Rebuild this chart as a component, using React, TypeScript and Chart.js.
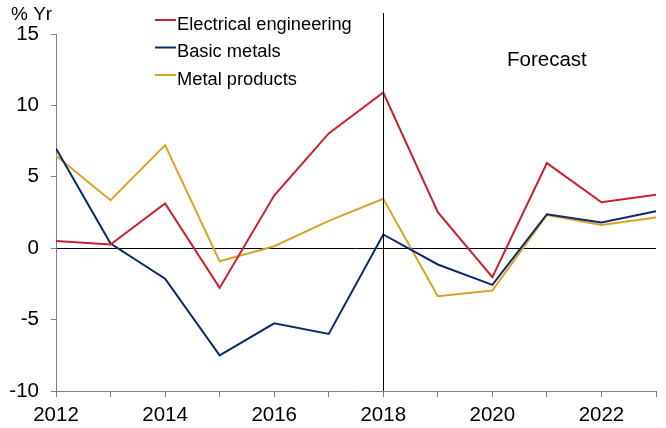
import React, { useEffect, useRef } from "react";
import { Chart, registerables } from "chart.js";

Chart.register(...registerables);

const years = [2012, 2013, 2014, 2015, 2016, 2017, 2018, 2019, 2020, 2021, 2022, 2023];
const electrical = [0.51, 0.26, 3.13, -2.78, 3.69, 8.04, 10.9, 2.52, -2.03, 5.96, 3.22, 3.74];
const basicMetals = [6.98, 0.33, -2.13, -7.5, -5.26, -6.0, 0.96, -1.14, -2.57, 2.38, 1.8, 2.59];
const metalProducts = [6.47, 3.36, 7.22, -0.91, 0.14, 1.91, 3.46, -3.36, -2.97, 2.33, 1.63, 2.15];
const seriesNames = ["Electrical engineering", "Basic metals", "Metal products"];
const seriesColors = ["#C8202F", "#0B2A6A", "#D9A424"];
const forecastYear = 2018;
const yTicks = [-10, -5, 0, 5, 10, 15];

const FONT = "'Liberation Sans', Arial, sans-serif";

const overlay = {
  id: "overlay",
  afterDatasetsDraw(chart: any) {
    const { ctx, scales, chartArea } = chart;
    const x = scales.x.getPixelForValue(forecastYear);
    ctx.save();
    ctx.strokeStyle = "#000";
    ctx.lineWidth = 1;
    ctx.beginPath();
    ctx.moveTo(Math.round(x) + 0.5, 13);
    ctx.lineTo(Math.round(x) + 0.5, chartArea.bottom);
    ctx.stroke();

    ctx.fillStyle = "#000";
    ctx.textBaseline = "alphabetic";
    ctx.textAlign = "left";
    ctx.font = `19px ${FONT}`;
    ctx.fillText("% Yr", 11, 20);
    ctx.font = `20.5px ${FONT}`;
    ctx.fillText("Forecast", 507, 66);

    ctx.font = `18.3px ${FONT}`;
    chart.data.datasets.forEach((ds: any, i: number) => {
      const y = 20 + i * 27.5;
      ctx.strokeStyle = ds.borderColor;
      ctx.lineWidth = 2;
      ctx.beginPath();
      ctx.moveTo(155, y);
      ctx.lineTo(176, y);
      ctx.stroke();
      ctx.fillStyle = "#000";
      ctx.fillText(ds.label, 177, y + 9.5);
    });
    ctx.restore();
  },
};

export default function App() {
  const ref = useRef<HTMLCanvasElement>(null);
  useEffect(() => {
    if (!ref.current) return;
    const mk = (label: string, data: number[], color: string) => ({
      label,
      data: years.map((y, i) => ({ x: y, y: data[i] })),
      borderColor: color,
      backgroundColor: color,
      borderWidth: 2,
      pointRadius: 0,
      tension: 0,
    });
    const chart = new Chart(ref.current, {
      type: "line",
      data: {
        datasets: [
          mk(seriesNames[0], electrical, seriesColors[0]),
          mk(seriesNames[1], basicMetals, seriesColors[1]),
          mk(seriesNames[2], metalProducts, seriesColors[2]),
        ],
      },
      options: {
        animation: false,
        responsive: false,
        maintainAspectRatio: false,
        layout: { padding: { top: 34, right: 10, left: 0, bottom: 0 } },
        plugins: { legend: { display: false }, tooltip: { enabled: false } },
        scales: {
          x: {
            type: "linear",
            min: 2012,
            max: 2023,
            afterFit: (s: any) => { s.height = 37; },
            afterBuildTicks: (s: any) => { s.ticks = years.map((v) => ({ value: v })); },
            ticks: {
              autoSkip: false,
              maxRotation: 0,
              padding: 6,
              color: "#000",
              font: { family: FONT, size: 20.5 },
              callback: (v: any) => (Number(v) % 2 === 0 ? String(v) : ""),
            },
            grid: { drawOnChartArea: false, tickLength: 6, tickColor: "#808080" },
            border: { color: "#808080", width: 1 },
          },
          y: {
            min: -10,
            max: 15,
            afterFit: (s: any) => { s.width = 56; },
            afterBuildTicks: (s: any) => { s.ticks = yTicks.map((v) => ({ value: v })); },
            ticks: {
              padding: 12,
              color: "#000",
              font: { family: FONT, size: 20.5 },
              callback: (v: any) => String(v),
            },
            grid: {
              tickLength: 5,
              tickColor: "#808080",
              color: (c: any) => (c.tick && c.tick.value === 0 ? "#000" : "rgba(0,0,0,0)"),
              lineWidth: 1,
            },
            border: { color: "#808080", width: 1 },
          },
        },
      },
      plugins: [overlay],
    });
    return () => chart.destroy();
  }, []);
  return (
    <div style={{ position: "fixed", left: 0, top: 0, width: 666, height: 428, background: "#fff" }}>
      <canvas ref={ref} width={666} height={428} style={{ width: 666, height: 428 }} />
    </div>
  );
}
